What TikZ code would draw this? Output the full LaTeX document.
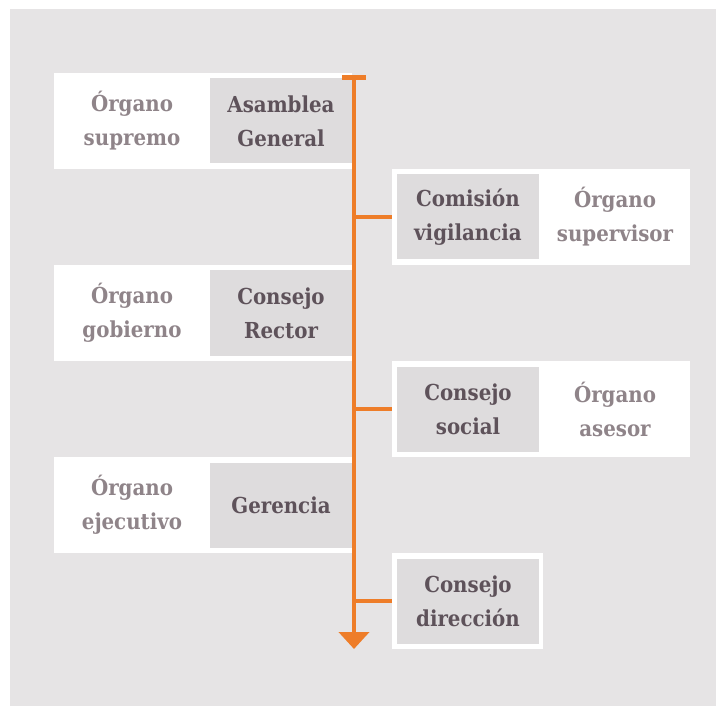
\documentclass[tikz,border=0pt]{standalone}
\usepackage{fontspec}
\setmainfont{DejaVu Serif Condensed}
\usetikzlibrary{positioning}
\usetikzlibrary{arrows.meta}

\definecolor{fondo}{HTML}{E6E4E5}
\definecolor{cajagris}{HTML}{DEDCDD}
\definecolor{naranja}{HTML}{EE7D29}
\definecolor{textoosc}{HTML}{5E525A}
\definecolor{textoclaro}{HTML}{8F8489}

\tikzset{
  fila/.style={fill=white, minimum width=298pt, minimum height=96pt, inner sep=0pt, outer sep=0pt},
  cargo/.style={fill=cajagris, text=textoosc, minimum width=142pt, minimum height=85pt,
    inner sep=0pt, outer sep=0pt, align=center, font=\bfseries\fontsize{22}{34}\selectfont},
  organo/.style={text=textoclaro, minimum height=96pt, inner sep=0pt, outer sep=0pt,
    align=center, font=\bfseries\fontsize{22}{34}\selectfont},
  eje/.style={draw=naranja, line width=4.5pt},
}

\begin{document}
\begin{tikzpicture}[x=1pt,y=-1pt]
        \useasboundingbox (0,0) rectangle (716,706);
        \fill[fondo] (10,9) rectangle (716,706);

        % Rows
        \node[fila, anchor=north west]  (f1) at (54,73) {};
        \node[fila, below=96pt of f1]   (f3) {};
        \node[fila, below=96pt of f3]   (f5) {};

        \node[fila, right=40pt of f1.south east, anchor=north west]  (f2) {};
        \node[fila, below=96pt of f2]   (f4) {};
        \node[fila, minimum width=151pt, below=96pt of f4.south west, anchor=north west]  (f6) {};

        % Left side
        \node[cargo, anchor=east]  (asamblea) at (f1.east) {Asamblea\\General};
        \node[organo, minimum width=156pt, anchor=west]  (supremo) at (f1.west) {Órgano\\supremo};

        \node[cargo, anchor=east]  (rector) at (f3.east) {Consejo\\Rector};
        \node[organo, minimum width=156pt, anchor=west]  (gobierno) at (f3.west) {Órgano\\gobierno};

        \node[cargo, anchor=east]  (gerencia) at (f5.east) {Gerencia};
        \node[organo, minimum width=156pt, anchor=west]  (ejecutivo) at (f5.west) {Órgano\\ejecutivo};

        % Right side
        \node[cargo, right=5pt of f2.west]  (comision) {Comisión\\vigilancia};
        \node[organo, minimum width=150pt, anchor=east]  (supervisor) at (f2.east) {Órgano\\supervisor};

        \node[cargo, right=5pt of f4.west]  (social) {Consejo\\social};
        \node[organo, minimum width=150pt, anchor=east]  (asesor) at (f4.east) {Órgano\\asesor};

        \node[cargo, right=5pt of f6.west]  (direccion) {Consejo\\dirección};

        % Axis
        \coordinate (arriba) at (354,75.5);
        \coordinate (punta)  at (354,649);
        \draw[eje, {Bar[width=24pt]}-{Triangle[width=30pt,length=17pt]}] (arriba) -- (punta);

        \draw[eje] (f2.west -| arriba) -- (f2.west);
        \draw[eje] (f4.west -| arriba) -- (f4.west);
        \draw[eje] (f6.west -| arriba) -- (f6.west);
    \end{tikzpicture}
\end{document}
